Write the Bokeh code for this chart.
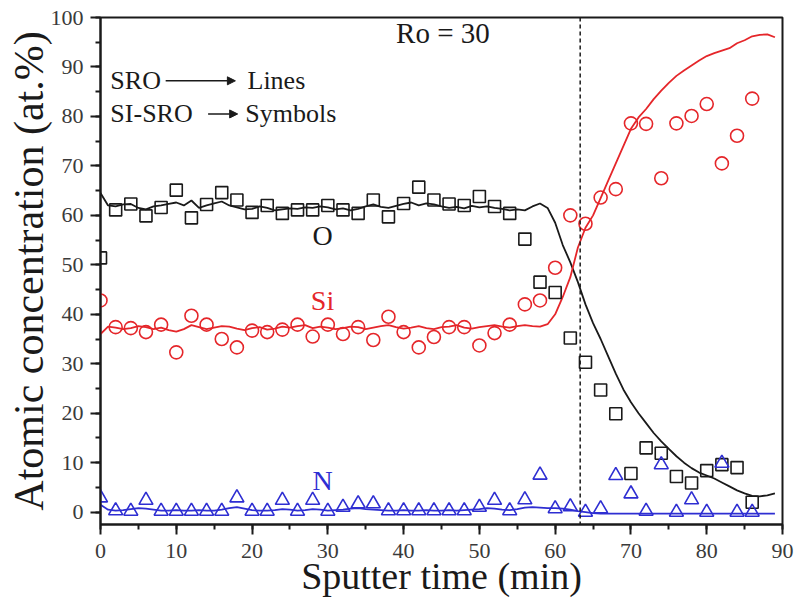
from bokeh.plotting import figure
from bokeh.models import Span, Label, Arrow, NormalHead, SingleIntervalTicker, Range1d
from bokeh.embed import file_html
from bokeh.resources import INLINE

# ---------------- data ----------------
# SRO (lines): sampled every minute 0..89
line_time = list(range(0, 90))
o_line = [64.5, 62.0, 61.8, 62.2, 62.3, 61.5, 61.2, 61.8, 62.0, 62.3,
          62.6, 62.0, 63.0, 61.5, 62.0, 62.4, 62.8, 62.0, 61.6, 61.2,
          61.3, 61.8, 61.5, 61.0, 61.2, 61.4, 61.3, 61.6, 61.5, 61.8,
          61.6, 61.2, 61.4, 61.0, 61.3, 61.8, 62.2, 61.7, 61.5, 61.9,
          62.3, 62.6, 62.0, 62.4, 62.2, 61.8, 61.5, 61.7, 61.4, 61.9,
          61.6, 61.8, 61.5, 61.3, 61.0, 61.2, 61.0, 61.8, 62.4, 61.5,
          58.5, 54.0, 50.5, 46.5, 42.0, 38.2, 35.0, 31.5, 28.0, 24.8,
          22.2, 20.0, 18.0, 16.0, 14.3, 12.8, 11.3, 10.0, 8.9, 8.0,
          7.4, 6.8, 6.0, 5.2, 4.4, 3.8, 3.3, 3.2, 3.4, 3.8]
si_line = [36.0, 37.5, 37.3, 37.0, 37.2, 37.6, 37.4, 37.0, 37.3, 36.8,
           36.5, 37.0, 37.8, 37.4, 37.0, 37.3, 37.6, 37.5, 37.1, 36.8,
           37.2, 37.4, 36.9, 37.1, 37.5, 37.3, 37.6, 37.8, 37.2, 37.5,
           37.3, 37.0, 37.2, 37.5, 37.4, 37.0, 37.3, 37.6, 37.8, 37.4,
           37.1, 37.3, 37.6, 37.2, 37.0, 37.4, 37.5, 37.8, 37.3, 37.1,
           37.4, 37.6, 37.8, 37.5, 37.3, 37.6, 37.8, 37.6, 37.5, 38.0,
           40.0, 43.5, 47.5, 53.5, 57.5, 60.0, 63.5, 67.0, 70.5, 74.0,
           77.5, 79.8, 81.5, 83.5, 85.2, 86.8, 88.2, 89.3, 90.3, 91.3,
           92.2, 92.8, 93.3, 93.8, 94.8, 95.4, 96.2, 96.5, 96.6, 96.0]
n_line = [1.5, 0.5, 0.3, 0.4, 0.6, 0.8, 0.7, 0.5, 0.3, 0.3,
          0.4, 0.3, 0.3, 0.4, 0.3, 0.3, 0.5, 0.8, 1.0, 0.7,
          0.4, 0.3, 0.3, 0.4, 0.6, 0.5, 0.3, 0.4, 0.6, 0.5,
          0.3, 0.4, 0.5, 0.7, 0.8, 0.6, 0.5, 0.4, 0.3, 0.3,
          0.4, 0.3, 0.3, 0.4, 0.3, 0.3, 0.4, 0.3, 0.4, 0.5,
          0.6, 0.8, 0.7, 0.5, 0.4, 0.6, 0.9, 1.0, 0.9, 0.8,
          0.8, 0.7, 0.5, 0.2, 0.0, -0.2, -0.3, -0.3, -0.3, -0.3,
          -0.3, -0.3, -0.3, -0.3, -0.3, -0.3, -0.3, -0.3, -0.3, -0.3,
          -0.3, -0.3, -0.3, -0.3, -0.3, -0.3, -0.3, -0.3, -0.3, -0.3]

# SI-SRO (symbols): every 2 minutes 0..86
sym_time = list(range(0, 88, 2))
o_sym = [51.4, 61.1, 62.3, 59.9, 61.6, 65.1, 59.5, 62.2, 64.6, 63.1,
         60.6, 62.0, 60.4, 61.1, 61.1, 62.0, 61.1, 60.4, 63.1, 59.7,
         62.4, 65.7, 63.1, 62.3, 62.0, 63.8, 61.8, 60.4, 55.2, 46.5,
         44.4, 35.2, 30.3, 24.7, 19.9, 7.8, 13.0, 11.9, 7.2, 5.9,
         8.4, 9.6, 9.0, 2.0]
si_sym = [42.8, 37.4, 37.2, 36.4, 37.9, 32.3, 39.7, 37.9, 35.0, 33.3,
          36.7, 36.4, 36.9, 37.9, 35.5, 37.9, 36.0, 37.4, 34.8, 39.5,
          36.4, 33.3, 35.4, 37.4, 37.4, 33.7, 36.2, 37.9, 42.0, 42.8,
          49.4, 60.0, 58.3, 63.6, 65.3, 78.6, 78.5, 67.5, 78.6, 80.1,
          82.5, 70.5, 76.1, 83.6]
n_sym = [2.9, 0.3, 0.2, 2.4, 0.2, 0.2, 0.2, 0.2, 0.2, 2.9,
         0.2, 0.2, 2.4, 0.2, 2.4, 0.2, 1.0, 1.7, 1.7, 0.3,
         0.3, 0.3, 0.3, 0.3, 0.3, 1.0, 2.4, 0.3, 2.5, 7.5,
         0.7, 1.1, 0.0, 0.7, 7.4, 3.7, 0.2, 9.6, 0.0, 2.5,
         0.0, 9.9, 0.0, 0.0]

x_ticks_interval = 10
y_ticks_interval = 10
interface_time = 63.3

BLACK = "#1a1a1a"
RED = "#e5262a"
BLUE = "#2e2ed2"
FONT = "Liberation Serif"

p = figure(width=797, height=605, output_backend="svg", toolbar_location=None,
           x_range=Range1d(0, 90), y_range=Range1d(-2.5, 100),
           min_border_left=100, min_border_right=15, min_border_top=17,
           min_border_bottom=81)

p.xgrid.visible = False
p.ygrid.visible = False
p.outline_line_color = BLACK
p.outline_line_width = 2

p.xaxis.ticker = SingleIntervalTicker(interval=x_ticks_interval, num_minor_ticks=2)
p.yaxis.ticker = SingleIntervalTicker(interval=y_ticks_interval, num_minor_ticks=2)

p.xaxis.axis_line_color = BLACK
p.yaxis.axis_line_color = BLACK
p.xaxis.axis_line_width = 2
p.yaxis.axis_line_width = 2
p.xaxis.major_tick_line_color = BLACK
p.yaxis.major_tick_line_color = BLACK
p.xaxis.minor_tick_line_color = BLACK
p.yaxis.minor_tick_line_color = BLACK
p.xaxis.major_tick_line_width = 2
p.yaxis.major_tick_line_width = 2
p.xaxis.minor_tick_line_width = 2
p.yaxis.minor_tick_line_width = 2
p.xaxis.major_tick_in = 0
p.yaxis.major_tick_in = 0
p.xaxis.major_tick_out = 10
p.yaxis.major_tick_out = 10
p.xaxis.minor_tick_in = 0
p.yaxis.minor_tick_in = 0
p.xaxis.minor_tick_out = 5
p.yaxis.minor_tick_out = 5
p.xaxis.major_label_text_font = FONT
p.yaxis.major_label_text_font = FONT
p.xaxis.major_label_text_font_size = "22px"
p.yaxis.major_label_text_font_size = "22px"
p.xaxis.major_label_text_color = "#3a3a3a"
p.yaxis.major_label_text_color = "#3a3a3a"
p.xaxis.major_label_standoff = 9
p.yaxis.major_label_standoff = 7
p.xaxis.axis_label_text_font = FONT
p.yaxis.axis_label_text_font = FONT
p.xaxis.axis_label_text_font_style = "normal"
p.yaxis.axis_label_text_font_style = "normal"
p.xaxis.axis_label_text_color = BLACK
p.yaxis.axis_label_text_color = BLACK

p.xaxis.axis_label = "Sputter time (min)"
p.xaxis.axis_label_text_font_size = "38px"
p.xaxis.axis_label_standoff = -6
p.yaxis.axis_label = "Atomic concentration (at.%)"
p.yaxis.axis_label_text_font_size = "42px"
p.yaxis.axis_label_standoff = -4

# lines (SRO)
p.line(line_time, o_line, line_color=BLACK, line_width=1.8)
p.line(line_time, si_line, line_color=RED, line_width=1.8)
p.line(line_time, n_line, line_color=BLUE, line_width=1.8)

# symbols (SI-SRO)
p.scatter(sym_time, o_sym, marker="square", size=12, fill_color=None,
          line_color=BLACK, line_width=1.6)
p.scatter(sym_time, si_sym, marker="circle", size=13, fill_color=None,
          line_color=RED, line_width=1.6)
p.scatter(sym_time, n_sym, marker="triangle", size=14, fill_color=None,
          line_color=BLUE, line_width=1.6)

# interface
p.add_layout(Span(location=interface_time, dimension="height", line_color=BLACK,
                  line_dash="4 3", line_width=1.5))

# annotations
def lab(x, y, text, size, color=BLACK, align="left"):
    p.add_layout(Label(x=x, y=y, text=text, text_font=FONT, text_font_size=size,
                       text_color=color, text_align=align,
                       text_baseline="middle"))

lab(39.0, 96.9, "Ro = 30", "29px")
lab(1.3, 87.2, "SRO", "26px")
lab(19.4, 87.2, "Lines", "26px")
lab(1.3, 80.5, "SI-SRO", "26px")
lab(19.1, 80.5, "Symbols", "26px")
lab(29.3, 56.0, "O", "28px", BLACK, "center")
lab(29.3, 42.8, "Si", "28px", RED, "center")
lab(29.3, 6.4, "N", "28px", BLUE, "center")

p.add_layout(Arrow(end=NormalHead(size=8, fill_color=BLACK, line_color=BLACK),
                   x_start=8.6, y_start=87.2, x_end=17.8, y_end=87.2,
                   line_color=BLACK, line_width=1.5))
p.add_layout(Arrow(end=NormalHead(size=8, fill_color=BLACK, line_color=BLACK),
                   x_start=14.2, y_start=80.5, x_end=18.1, y_end=80.5,
                   line_color=BLACK, line_width=1.5))

open("out.html", "w").write(file_html(p, INLINE))
